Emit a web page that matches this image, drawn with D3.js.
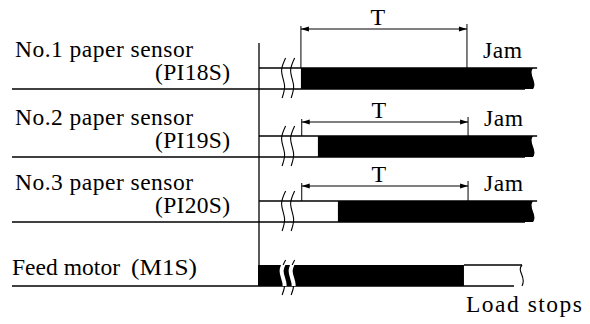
<!DOCTYPE html>
<html><head><meta charset="utf-8">
<script src="https://cdn.jsdelivr.net/npm/d3@7"></script>
<style>html,body{margin:0;padding:0;background:#fff;} svg{display:block}</style>
</head><body><svg id="c" width="590" height="324"></svg>
<script>
// ---- data ----
const signals = ["No.1 paper sensor", "No.2 paper sensor", "No.3 paper sensor", "Feed motor"];
const codes = ["(PI18S)", "(PI19S)", "(PI20S)", "(M1S)"];
const onStart = [15.3, 21.5, 28.8, 0];      // time units where signal goes high
const onEnd = [100, 100, 100, 74.8];         // time units where signal ends high
const traceEnd = [101.5, 101.5, 101.5, 96];  // end of drawn trace
const breaks = [8.8, 12.1];                  // time-axis break marks
const timerStart = [15.3, 15.6, 15.6];
const timerEnd = [75.9, 76.3, 76.3];
const timerLabel = "T";
const eventLabels = ["Jam", "Jam", "Jam"];
const stopLabel = "Load stops";

// ---- layout ----
const svg = d3.select("#c");
const x = d3.scaleLinear().domain([0, 100]).range([259, 533]);
const y = d3.scaleLinear().domain([0, 1, 2, 3]).range([89, 157, 222, 286]);
const lvl = d3.scaleLinear().domain([0, 1]).range([0, -21]);
const arrowRise = [39, 14, 15];
const serif = "'Liberation Serif','Times New Roman',serif";
const FS = 23.5;
const SW = 1.3;

const g = svg.append("g");

// vertical time-zero line
g.append("line").attr("x1", x(0)).attr("x2", x(0))
  .attr("y1", 43).attr("y2", y(3) + lvl(1))
  .attr("stroke", "#000").attr("stroke-width", SW);

const wave = d3.line().curve(d3.curveCatmullRom.alpha(0.5));
function breakPath(bx, y0, y1) {
  const h = y1 - y0;
  return wave([[bx + 2.5, y0], [bx - 1.5, y0 + h * 0.3], [bx + 1.5, y0 + h * 0.72], [bx - 1, y1]]);
}

const defs = svg.append("defs");

signals.forEach((s, i) => {
  const lo = y(i), hi = y(i) + lvl(1);
  const isMotor = i === 3;
  g.append("line").attr("x1", 12).attr("x2", x(isMotor ? traceEnd[i] : onEnd[i]) - 8)
    .attr("y1", lo).attr("y2", lo).attr("stroke", "#000").attr("stroke-width", SW);
  const hx0 = isMotor ? x(onEnd[i]) : x(0);
  g.append("line").attr("x1", hx0).attr("x2", x(traceEnd[i]))
    .attr("y1", hi).attr("y2", hi).attr("stroke", "#000").attr("stroke-width", SW);
  breaks.forEach(b => {
    const y0 = isMotor ? hi - 5 : hi - 10;
    const y1 = lo + 9;
    g.append("path").attr("d", breakPath(x(b), y0, y1))
      .attr("fill", "none").attr("stroke", "#000").attr("stroke-width", 1.1);
  });
  const bx0 = x(onStart[i]) - (isMotor ? 1 : 0), bx1 = x(onEnd[i]);
  if (!isMotor) {
    const h = lo - hi;
    const p = `M${bx0},${hi} H${bx1} C${bx1 - 5},${hi + h * 0.35} ${bx1 + 5},${hi + h * 0.65} ${bx1},${lo} H${bx0} Z`;
    g.append("path").attr("d", p).attr("fill", "#000");
  } else {
    g.append("rect").attr("x", bx0).attr("y", hi).attr("width", bx1 - bx0).attr("height", lo - hi).attr("fill", "#000");
    const cid = "clipm";
    defs.append("clipPath").attr("id", cid).append("rect")
      .attr("x", bx0).attr("y", hi).attr("width", bx1 - bx0).attr("height", lo - hi);
    breaks.forEach(b => {
      g.append("path").attr("d", breakPath(x(b), hi - 5, lo + 9))
        .attr("clip-path", `url(#${cid})`)
        .attr("fill", "none").attr("stroke", "#fff").attr("stroke-width", 4);
    });
    const ex = x(traceEnd[i]), h = lo - hi;
    g.append("path").attr("d", `M${ex},${hi} C${ex - 6},${hi + h * 0.3} ${ex + 5},${hi + h * 0.55} ${ex},${lo}`)
      .attr("fill", "none").attr("stroke", "#000").attr("stroke-width", 1.1);
  }

  if (!isMotor) {
    g.append("text").attr("x", 15).attr("y", lo - 32).text(s)
      .attr("font-family", serif).attr("font-size", FS).attr("textLength", 178).attr("lengthAdjust", "spacing");
    g.append("text").attr("x", 155).attr("y", lo - 9).text(codes[i])
      .attr("font-family", serif).attr("font-size", FS).attr("textLength", 75).attr("lengthAdjust", "spacing");
  } else {
    g.append("text").attr("x", 12).attr("y", lo - 11).text(s)
      .attr("font-family", serif).attr("font-size", FS).attr("textLength", 108).attr("lengthAdjust", "spacing");
    g.append("text").attr("x", 131).attr("y", lo - 11).text(codes[i])
      .attr("font-family", serif).attr("font-size", FS).attr("textLength", 66).attr("lengthAdjust", "spacingAndGlyphs");
  }
});

timerStart.forEach((ts, i) => {
  const hi = y(i) + lvl(1);
  const ay = hi - arrowRise[i];
  const xa = x(ts), xb = x(timerEnd[i]);
  g.append("line").attr("x1", xa).attr("x2", xa).attr("y1", ay - 3).attr("y2", hi)
    .attr("stroke", "#000").attr("stroke-width", 1);
  g.append("line").attr("x1", xb).attr("x2", xb).attr("y1", ay - 5).attr("y2", hi)
    .attr("stroke", "#000").attr("stroke-width", 1);
  g.append("line").attr("x1", xa).attr("x2", xb).attr("y1", ay).attr("y2", ay)
    .attr("stroke", "#000").attr("stroke-width", 1);
  g.append("path").attr("d", `M${xa},${ay} L${xa + 8},${ay - 2.5} L${xa + 8},${ay + 2.5} Z`).attr("fill", "#000");
  g.append("path").attr("d", `M${xb},${ay} L${xb - 8},${ay - 2.5} L${xb - 8},${ay + 2.5} Z`).attr("fill", "#000");
  g.append("text").attr("x", (xa + xb) / 2 - 6).attr("y", ay - 4).attr("text-anchor", "middle")
    .text(timerLabel).attr("font-family", serif).attr("font-size", 24);
  g.append("text").attr("x", xb + 16).attr("y", y(i) - 31).text(eventLabels[i])
    .attr("font-family", serif).attr("font-size", FS).attr("textLength", 39).attr("lengthAdjust", "spacing");
});

g.append("text").attr("x", 466).attr("y", 312).text(stopLabel)
  .attr("font-family", serif).attr("font-size", FS).attr("textLength", 116).attr("lengthAdjust", "spacing");
</script></body></html>
